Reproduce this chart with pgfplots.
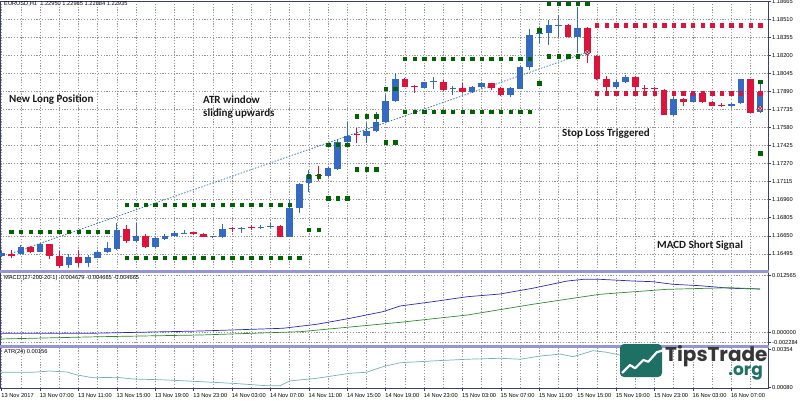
\documentclass[border=0pt]{standalone}
\usepackage{pgfplots}
\usepackage{pgfplotstable}
\pgfplotsset{compat=1.18}
\usepackage{fontspec}
\setmainfont{Liberation Sans}
\newfontfamily\carlito{Carlito}
\newfontfamily\poppins{Poppins}
\definecolor{bull}{RGB}{52,106,196}
\definecolor{bear}{RGB}{220,20,60}
\definecolor{dkgreen}{RGB}{0,100,0}
\definecolor{macdc}{RGB}{40,40,200}
\definecolor{sigc}{RGB}{45,140,45}
\definecolor{atrc}{RGB}{110,180,175}
\definecolor{gridc}{RGB}{150,150,150}
\definecolor{axisc}{RGB}{60,60,130}
\definecolor{sepc}{RGB}{150,150,215}
\definecolor{tradec}{RGB}{60,120,180}
\definecolor{logoc}{RGB}{30,112,100}
\definecolor{logotext}{RGB}{55,55,55}

\pgfplotstableread{
i O H L C
0 1.16480 1.16520 1.16469 1.16505
2 1.16494 1.16572 1.16486 1.16552
4 1.16514 1.16591 1.16509 1.16578
7 1.16400 1.16492 1.16372 1.16469
9 1.16415 1.16486 1.16385 1.16466
10 1.16463 1.16529 1.16457 1.16509
11 1.16509 1.16600 1.16500 1.16543
12 1.16537 1.16758 1.16529 1.16700
14 1.16608 1.16758 1.16600 1.16649
16 1.16552 1.16643 1.16543 1.16629
17 1.16623 1.16666 1.16617 1.16651
18 1.16649 1.16692 1.16640 1.16677
19 1.16669 1.16700 1.16669 1.16677
22 1.16640 1.16651 1.16632 1.16649
23 1.16643 1.16749 1.16629 1.16706
25 1.16711 1.16729 1.16677 1.16719
27 1.16717 1.16743 1.16706 1.16729
28 1.16726 1.16758 1.16720 1.16737
30 1.16643 1.16958 1.16638 1.16886
31 1.16892 1.17104 1.16849 1.17092
32 1.17101 1.17215 1.17029 1.17172
34 1.17164 1.17243 1.17158 1.17230
35 1.17224 1.17472 1.17215 1.17458
36 1.17458 1.17629 1.17444 1.17509
38 1.17509 1.17616 1.17444 1.17552
39 1.17552 1.17715 1.17544 1.17624
40 1.17629 1.17859 1.17624 1.17807
41 1.17810 1.18045 1.17801 1.17996
44 1.17921 1.17973 1.17916 1.17968
45 1.17970 1.18016 1.17907 1.17978
47 1.17907 1.17936 1.17859 1.17915
49 1.17887 1.17936 1.17873 1.17925
50 1.17925 1.17973 1.17916 1.17959
53 1.17859 1.17927 1.17839 1.17916
54 1.17913 1.18107 1.17907 1.18101
55 1.18101 1.18422 1.18073 1.18373
56 1.18383 1.18445 1.18302 1.18391
57 1.18388 1.18502 1.18288 1.18459
58 1.18455 1.18545 1.18356 1.18463
60 1.18359 1.18616 1.18216 1.18436
64 1.17925 1.17987 1.17907 1.17968
65 1.17968 1.18030 1.17959 1.18010
70 1.17687 1.17844 1.17678 1.17824
72 1.17801 1.17878 1.17798 1.17873
76 1.17764 1.17792 1.17758 1.17781
77 1.17787 1.17996 1.17781 1.17993
79 1.17715 1.17964 1.17707 1.17887
}\bullT

\pgfplotstableread{
i O H L C
1 1.16490 1.16529 1.16460 1.16481
3 1.16552 1.16566 1.16500 1.16509
5 1.16578 1.16580 1.16451 1.16480
6 1.16480 1.16520 1.16372 1.16394
8 1.16471 1.16529 1.16385 1.16415
13 1.16706 1.16743 1.16586 1.16606
15 1.16649 1.16663 1.16543 1.16552
20 1.16681 1.16686 1.16657 1.16663
21 1.16666 1.16672 1.16640 1.16643
24 1.16714 1.16729 1.16686 1.16706
26 1.16725 1.16743 1.16700 1.16717
29 1.16737 1.16741 1.16638 1.16643
33 1.17168 1.17249 1.17123 1.17160
37 1.17523 1.17573 1.17444 1.17515
42 1.17996 1.18002 1.17925 1.17930
43 1.17935 1.17944 1.17878 1.17927
46 1.17973 1.17987 1.17895 1.17901
48 1.17916 1.17964 1.17878 1.17887
51 1.17959 1.17964 1.17901 1.17916
52 1.17916 1.17925 1.17850 1.17859
59 1.18459 1.18468 1.18354 1.18359
61 1.18436 1.18440 1.18136 1.18216
62 1.18193 1.18202 1.17987 1.17996
63 1.17996 1.18022 1.17887 1.17925
66 1.18010 1.18022 1.17887 1.17930
67 1.17921 1.17944 1.17895 1.17913
68 1.17915 1.17925 1.17887 1.17907
69 1.17901 1.17907 1.17684 1.17687
71 1.17824 1.17830 1.17764 1.17801
73 1.17873 1.17878 1.17787 1.17801
74 1.17801 1.17807 1.17762 1.17764
75 1.17772 1.17787 1.17758 1.17764
78 1.17993 1.17996 1.17702 1.17707
}\bearT

\pgfplotsset{
  mtpane/.style={
    scale only axis, width=768pt,
    xmin=-0.177, xmax=79.82,
    xtick={0,4,...,76}, minor xtick={2,6,...,78},
    xmajorgrids, xminorgrids, ymajorgrids,
    major grid style={draw=gridc, line width=0.5pt, dash pattern=on 1.2pt off 1.6pt},
    minor grid style={draw=gridc, line width=0.5pt, dash pattern=on 1.2pt off 1.6pt},
    axis line style={draw=axisc, line width=0.8pt},
    ytick pos=right, yticklabel pos=right,
    xtick pos=bottom,
    tick align=outside,
    major tick length=3pt, minor tick length=0pt,
    tick style={draw=axisc, line width=0.6pt},
    ticklabel style={font=\fontsize{5.7}{6}\selectfont, text=black},
    yticklabel style={anchor=west, inner sep=0.5pt, xshift=0.5pt},
    scaled y ticks=false,
    anchor=south west,
  },
  candle/.style 2 args={draw=none, mark=none, error bars/.cd, y dir=plus, y explicit, error mark=none,
    error bar style={line width=#1, draw=#2}},
}

\begin{document}
\begin{tikzpicture}
\useasboundingbox (0pt,0pt) rectangle (800pt,400pt);

% ---------------- main price pane ----------------
\begin{axis}[mtpane, at={(0pt,129pt)}, height=270pt,
  ymin=1.16348, ymax=1.18666,
  ytick={1.16495,1.16650,1.16805,1.16960,1.17115,1.17270,1.17425,1.17580,1.17735,1.17890,1.18045,1.18200,1.18355,1.18510,1.18665},
  yticklabels={1.16495,1.16650,1.16805,1.16960,1.17115,1.17270,1.17425,1.17580,1.17735,1.17890,1.18045,1.18200,1.18355,1.18510,1.18665},
  xticklabels={}, xtick style={draw=none}]
% ATR window levels (green)
\addplot[only marks, mark=square*, mark size=1.7pt, color=dkgreen] coordinates {
(1,1.16686) (2,1.16686) (3,1.16686) (4,1.16686) (5,1.16686) (6,1.16686) (7,1.16686) (8,1.16686) (9,1.16686) (10,1.16686) (11,1.16686)
(13,1.16919) (14,1.16919) (15,1.16919) (16,1.16919) (17,1.16919) (18,1.16919) (19,1.16919) (20,1.16919) (21,1.16919) (22,1.16919) (23,1.16919) (24,1.16919) (25,1.16919) (26,1.16919) (27,1.16919) (28,1.16919) (29,1.16919) (30,1.16919)
(13,1.16463) (14,1.16463) (15,1.16463) (16,1.16463) (17,1.16463) (18,1.16463) (19,1.16463) (20,1.16463) (21,1.16463) (22,1.16463) (23,1.16463) (24,1.16463) (25,1.16463) (26,1.16463) (27,1.16463) (28,1.16463) (29,1.16463) (30,1.16463) (31,1.16463)
(32,1.16705) (33,1.16705) (32,1.17162) (33,1.17162)
(34,1.16972) (35,1.16972) (36,1.16972) (34,1.17432) (35,1.17432) (36,1.17432)
(37,1.17221) (38,1.17221) (39,1.17221) (37,1.17677) (38,1.17677) (39,1.17677)
(40,1.17455) (41,1.17455) (40,1.17914) (41,1.17914)
(42,1.17715) (43,1.17715) (44,1.17715) (45,1.17715) (46,1.17715) (47,1.17715) (48,1.17715) (49,1.17715) (50,1.17715) (51,1.17715) (52,1.17715) (53,1.17715) (54,1.17715) (55,1.17715)
(42,1.18173) (43,1.18173) (44,1.18173) (45,1.18173) (46,1.18173) (47,1.18173) (48,1.18173) (49,1.18173) (50,1.18173) (51,1.18173) (52,1.18173) (53,1.18173) (54,1.18173) (55,1.18173)
(56,1.17959) (56,1.18416)
(57,1.18193) (58,1.18193) (59,1.18193) (60,1.18193)
(57,1.18645) (58,1.18645) (59,1.18645) (60,1.18645) (61,1.18645)
(79,1.17973) (79,1.17358)
};
% short window levels (red)
\addplot[only marks, mark=square*, mark size=1.7pt, color=bear] coordinates {
(62,1.18459) (63,1.18459) (64,1.18459) (65,1.18459) (66,1.18459) (67,1.18459) (68,1.18459) (69,1.18459) (70,1.18459) (71,1.18459) (72,1.18459) (73,1.18459) (74,1.18459) (75,1.18459) (76,1.18459) (77,1.18459) (78,1.18459) (79,1.18459)
(62,1.17873) (63,1.17873) (64,1.17873) (65,1.17873) (66,1.17873) (67,1.17873) (68,1.17873) (69,1.17873) (70,1.17873) (71,1.17873) (72,1.17873) (73,1.17873) (74,1.17873) (75,1.17873) (76,1.17873) (77,1.17873) (78,1.17873) (79,1.17873)
};
% trade line
\addplot[tradec, line width=0.8pt, dash pattern=on 1.5pt off 1.5pt] coordinates {(1,1.16499) (61,1.18227)};
% wicks
\addplot[candle={1pt}{bull}]
  table[x=i, y=L, y error expr={\thisrow{H}-\thisrow{L}}] \bullT;
\addplot[candle={1pt}{bear}]
  table[x=i, y=L, y error expr={\thisrow{H}-\thisrow{L}}] \bearT;
% bodies
\addplot[candle={6.5pt}{bull}]
  table[x=i, y=O, y error expr={\thisrow{C}-\thisrow{O}}] \bullT;
\addplot[candle={6.5pt}{bear}]
  table[x=i, y=C, y error expr={\thisrow{O}-\thisrow{C}}] \bearT;
% exit markers
\addplot[only marks, mark=otimes*, mark size=2.6pt, mark options={draw=bear!60!black, fill=pink!60, line width=0.5pt}]
  coordinates {(61,1.18227) (79,1.17744)};
\end{axis}

% ---------------- MACD pane ----------------
\begin{axis}[mtpane, at={(0pt,54pt)}, height=74pt,
  ymin=-0.003112, ymax=0.013390,
  ytick={-0.002284,0,0.012565}, yticklabels={-0.002284,0.000000,0.012565},
  xticklabels={}, xtick style={draw=none}]
\addplot[macdc, line width=0.7pt] coordinates {
(-0.18,-0.00028) (9.2,-0.00028) (20.66,0.00023) (29.3,0.00084) (32.8,0.00173) (36.3,0.00307) (39.7,0.00454) (41.5,0.00581) (44.9,0.00677) (48.5,0.00788) (51.9,0.00848) (55.3,0.00976) (58.9,0.01138) (60.6,0.01176) (62.3,0.01176) (65.8,0.01138) (67.8,0.01123) (69.9,0.01065) (72.7,0.01034) (75.9,0.00976) (79,0.00960)};
\addplot[sigc, line width=0.7pt] coordinates {
(-0.18,-0.00155) (10.2,-0.00104) (20.7,-0.00066) (31.1,0.00008) (41.5,0.00217) (48.5,0.00380) (55.3,0.00619) (62.3,0.00842) (69.3,0.00953) (75.9,0.00989) (79,0.00960)};
\end{axis}

% ---------------- ATR pane ----------------
\begin{axis}[mtpane, at={(0pt,12pt)}, height=41pt,
  ymin=0.000777, ymax=0.003704,
  ytick={0.00080,0.00354}, yticklabels={0.00080,0.00354},
  ymajorgrids=false,
  xticklabels={13 Nov 2017,13 Nov 07:00,13 Nov 11:00,13 Nov 15:00,13 Nov 19:00,13 Nov 23:00,14 Nov 03:00,14 Nov 07:00,14 Nov 11:00,14 Nov 15:00,14 Nov 19:00,14 Nov 23:00,15 Nov 03:00,15 Nov 07:00,15 Nov 11:00,15 Nov 15:00,15 Nov 19:00,15 Nov 23:00,16 Nov 03:00,16 Nov 07:00},
  xticklabel style={anchor=north west, inner sep=0pt, yshift=-2.5pt, xshift=-0.5pt}]
\addplot[atrc, line width=0.7pt] coordinates {
(-0.18,0.00190) (3.26,0.00190) (5.03,0.00199) (6.8,0.00192) (7.84,0.00171) (9.51,0.00151) (12.0,0.00154) (13.7,0.00142) (17.2,0.00135) (20.7,0.00123) (24.1,0.00111) (27.6,0.00094) (29.0,0.00094) (30.0,0.00128) (32.8,0.00147) (36.3,0.00183) (38.0,0.00190) (39.7,0.00230) (41.5,0.00258) (44.9,0.00271) (48.5,0.00283) (51.9,0.00290) (54.0,0.00283) (56.1,0.00306) (58.2,0.00320) (59.5,0.00301) (61.6,0.00344) (63.0,0.00333) (64.4,0.00313)};
\end{axis}

% pane separators
\draw[sepc, line width=2.5pt] (0pt,128.5pt) -- (769pt,128.5pt);
\draw[sepc, line width=2.5pt] (0pt,53.5pt) -- (769pt,53.5pt);

% pane captions
\node[anchor=west, inner sep=0pt, font=\fontsize{5.7}{6}\selectfont] at (4pt,396pt) {EURUSD,H1\ \ 1.22950 1.22985 1.22884 1.22935};
\node[anchor=west, inner sep=0pt, font=\fontsize{5.7}{6}\selectfont] at (4pt,122pt) {MACD (27-200-20-1) -0.004679 -0.004665 -0.004665};
\node[anchor=west, inner sep=0pt, font=\fontsize{5.7}{6}\selectfont] at (4pt,48pt) {ATR(24) 0.00156};

% annotations
\begin{scope}[every node/.style={anchor=west, inner sep=0pt, text={rgb,255:red,25;green,25;blue,25}, font=\carlito\bfseries\fontsize{11}{13}\selectfont}]
\node at (9pt,300pt) {New Long Position};
\node at (203pt,300pt) {ATR window};
\node at (203pt,286.5pt) {sliding upwards};
\node at (562pt,266.5pt) {Stop Loss Triggered};
\node at (657pt,154.5pt) {MACD Short Signal};
\end{scope}

% watermark logo
\fill[logoc, rounded corners=4pt] (620pt,23pt) rectangle (662pt,56pt);
\draw[white, line width=2.2pt, line join=round] (622pt,27pt) -- (630pt,35pt) -- (635pt,31.7pt) -- (643.3pt,40pt) -- (648.3pt,38.3pt) -- (656.7pt,47.7pt) -- (664pt,50pt);
\node[anchor=base west, inner sep=0pt, text=logotext, font=\poppins\bfseries\fontsize{20}{22}\selectfont] at (665pt,38.5pt) {TipsTrade};
\node[anchor=base east, inner sep=0pt, text=logoc, font=\poppins\bfseries\fontsize{17}{19}\selectfont] at (763pt,25pt) {.org};
\end{tikzpicture}
\end{document}
